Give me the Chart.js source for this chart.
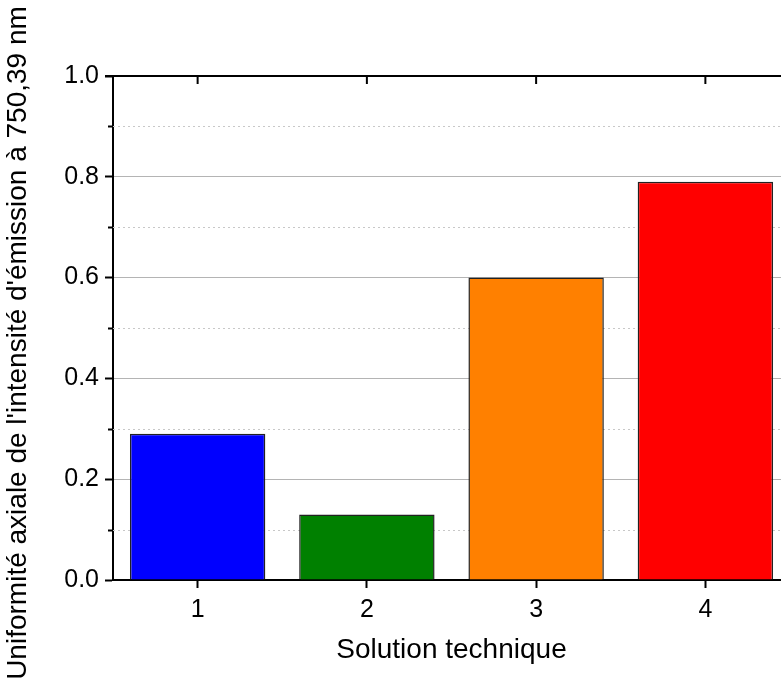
<!DOCTYPE html>
<html>
<head>
<meta charset="utf-8">
<script src="https://cdn.jsdelivr.net/npm/chart.js@4.4.1/dist/chart.umd.min.js"></script>
<style>
  html, body { margin: 0; padding: 0; background: #fff; overflow: hidden; }
  #wrap { width: 781px; height: 686px; overflow: hidden; }
</style>
</head>
<body>
<div id="wrap"><canvas id="chart" width="800" height="686"></canvas></div>
<script>
// données
const categories = ['1', '2', '3', '4'];
const uniformite = [0.29, 0.13, 0.60, 0.79];
const couleurs = ['#0000ff', '#008000', '#ff8000', '#ff0000'];
const yMin = 0, yMax = 1.0, yMajor = 0.2, yMinor = 0.1;
const titreX = 'Solution technique';
const titreY = "Uniformité axiale de l'intensité d'émission à 750,39 nm";

const police = "'Liberation Sans', Arial, sans-serif";

// grille secondaire pointillée, petites graduations, cadre du haut et titre Y
const cadre = {
    id: 'cadre',
    beforeDatasetsDraw(chart) {
        const { ctx, chartArea: a, scales: { y } } = chart;
        ctx.save();
        for (let v = yMin + yMinor; v < yMax; v += 2 * yMinor) {
            const py = Math.round(y.getPixelForValue(v)) + 0.5;
            ctx.strokeStyle = '#c8c8c8';
            ctx.lineWidth = 1;
            ctx.setLineDash([2, 3]);
            ctx.beginPath();
            ctx.moveTo(a.left, py);
            ctx.lineTo(a.right, py);
            ctx.stroke();
            ctx.setLineDash([]);
            ctx.strokeStyle = '#000';
            ctx.lineWidth = 2;
            ctx.beginPath();
            ctx.moveTo(a.left - 5, py);
            ctx.lineTo(a.left, py);
            ctx.stroke();
        }
        ctx.restore();
    },
    afterDatasetsDraw(chart) {
        const { ctx, chartArea: a, scales: { x } } = chart;
        ctx.save();
        ctx.strokeStyle = '#000';
        ctx.lineWidth = 2;
        ctx.beginPath();
        ctx.moveTo(a.left - 8, a.top);
        ctx.lineTo(a.right, a.top);
        ctx.stroke();
        categories.forEach((c, i) => {
            const px = x.getPixelForValue(i);
            ctx.beginPath();
            ctx.moveTo(px, a.top);
            ctx.lineTo(px, a.top + 8);
            ctx.stroke();
        });
        // titre de l'axe Y, un peu plus bas que le centre de la zone
        ctx.translate(18, 343);
        ctx.rotate(-Math.PI / 2);
        ctx.fillStyle = '#000';
        ctx.font = '28px ' + police;
        ctx.textAlign = 'center';
        ctx.textBaseline = 'middle';
        ctx.fillText(titreY, 0, 0);
        ctx.restore();
    }
};

new Chart(document.getElementById('chart'), {
    type: 'bar',
    data: {
        labels: categories,
        datasets: [{
            data: uniformite,
            backgroundColor: couleurs,
            borderColor: '#222',
            borderWidth: 1.5,
            categoryPercentage: 1.0,
            barPercentage: 0.8
        }]
    },
    options: {
        responsive: false,
        animation: false,
        devicePixelRatio: 1,
        layout: { padding: { top: 76, right: 10, left: 0, bottom: 0 } },
        plugins: { legend: { display: false }, tooltip: { enabled: false } },
        scales: {
            x: {
                afterFit(s) { s.height = 106; },
                grid: {
                    offset: false,
                    drawOnChartArea: false,
                    tickLength: 8,
                    tickWidth: 2,
                    tickColor: '#000'
                },
                border: { color: '#000', width: 2 },
                ticks: { color: '#000', padding: 7, font: { family: police, size: 25 } },
                title: {
                    display: true,
                    text: titreX,
                    color: '#000',
                    font: { family: police, size: 28 },
                    padding: { top: 0, bottom: 19 }
                }
            },
            y: {
                min: yMin,
                max: yMax,
                afterFit(s) { s.width = 113; },
                grid: {
                    color: (c) => (c.tick && (c.tick.value === yMin || c.tick.value === yMax)) ? 'rgba(0,0,0,0)' : '#b4b4b4',
                    lineWidth: 1,
                    tickLength: 8,
                    tickWidth: 2,
                    tickColor: '#000'
                },
                border: { color: '#000', width: 2 },
                ticks: {
                    stepSize: yMajor,
                    color: '#000',
                    padding: 6,
                    font: { family: police, size: 25 },
                    callback: (v) => v.toFixed(1)
                },
                title: { display: false }
            }
        }
    },
    plugins: [cadre]
});
</script>
</body>
</html>
